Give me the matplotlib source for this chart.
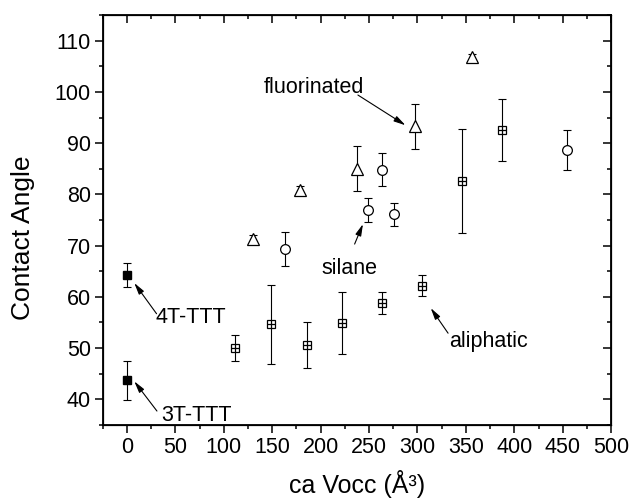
import numpy as np
import matplotlib.pyplot as plt
from matplotlib.ticker import MultipleLocator

plt.rcParams['font.family'] = ['Liberation Sans', 'DejaVu Sans']

# thiophene references (filled squares)
ref_x = [0, 0]
ref_y = [64.3, 43.7]
ref_err = [2.4, 3.8]

# aliphatic (crossed squares)
ali_x = [112, 149, 186, 222, 263, 305, 346, 387]
ali_y = [50.0, 54.6, 50.6, 54.9, 58.8, 62.2, 82.6, 92.6]
ali_err = [2.6, 7.8, 4.4, 6.1, 2.1, 2.1, 10.2, 6.0]

# silane (open circles)
sil_x = [163, 249, 263, 276, 454]
sil_y = [69.3, 76.9, 84.8, 76.1, 88.6]
sil_err = [3.3, 2.3, 3.2, 2.3, 3.9]

# fluorinated (open triangles)
flu_x = [130, 179, 238, 297, 356]
flu_y = [71.2, 80.8, 85.0, 93.3, 106.9]
flu_err = [0.8, 0.8, 4.4, 4.4, 0.6]

fig = plt.figure(figsize=(6.34, 5.04), dpi=100)
ax = fig.add_axes([0.162, 0.157, 0.802, 0.813])

eb = dict(fmt='none', ecolor='black', elinewidth=0.8, capsize=2.6, capthick=0.8, zorder=2)
for x, y, e in [(ref_x, ref_y, ref_err), (ali_x, ali_y, ali_err),
                (sil_x, sil_y, sil_err), (flu_x, flu_y, flu_err)]:
    ax.errorbar(x, y, yerr=e, **eb)

ax.plot(ref_x, ref_y, 's', ms=6.2, color='black', zorder=3)
ax.plot(ali_x, ali_y, 's', ms=6.0, mfc='white', mec='black', mew=0.9, zorder=3)
ax.plot(ali_x, ali_y, '+', ms=6.0, color='black', mew=0.9, zorder=4)
ax.plot(sil_x, sil_y, 'o', ms=7.0, mfc='white', mec='black', mew=0.9, zorder=3)
ax.plot(flu_x, flu_y, '^', ms=8.0, mfc='white', mec='black', mew=0.9, zorder=3)

# labels with arrows pointing at the groups
arrow = dict(arrowstyle='-|>,head_length=0.7,head_width=0.18', color='black', lw=0.8,
             shrinkA=0, shrinkB=0)
notes = [
    ('fluorinated', (141, 100.9), (238.5, 99.4), (287.6, 93.5)),
    ('silane', (200.7, 65.6), (235.1, 70.3), (243.7, 74.2)),
    ('aliphatic', (332.7, 51.3), (331.6, 52.9), (313.7, 57.8)),
    ('4T-TTT', (30, 55.9), (30.6, 56.7), (7.6, 62.7)),
    ('3T-TTT', (35.2, 36.9), (31, 37.7), (7.6, 43.5)),
]
for txt, tpos, a0, a1 in notes:
    ax.text(tpos[0], tpos[1], txt, fontsize=15.5, ha='left', va='center')
    ax.annotate('', xy=a1, xytext=a0, arrowprops=arrow)

ax.set_xlim(-25, 500)
ax.set_ylim(35, 115)
ax.xaxis.set_major_locator(MultipleLocator(50))
ax.xaxis.set_minor_locator(MultipleLocator(25))
ax.yaxis.set_major_locator(MultipleLocator(10))
ax.yaxis.set_minor_locator(MultipleLocator(5))
ax.set_yticks(np.arange(40, 111, 10))

for s in ax.spines.values():
    s.set_linewidth(1.3)
ax.tick_params(which='both', direction='out', width=1.1, labelsize=15.5, pad=3)
ax.tick_params(which='major', length=5.5)
ax.tick_params(which='minor', length=3)

# mirrored ticks pointing inward on top and right
axt = ax.twiny()
axt.set_xlim(ax.get_xlim())
axt.xaxis.set_major_locator(MultipleLocator(50))
axt.xaxis.set_minor_locator(MultipleLocator(25))
axt.tick_params(which='both', direction='in', width=1.1, labeltop=False)
axt.tick_params(which='major', length=5.5)
axt.tick_params(which='minor', length=3)
axr = ax.twinx()
axr.set_ylim(ax.get_ylim())
axr.yaxis.set_major_locator(MultipleLocator(10))
axr.yaxis.set_minor_locator(MultipleLocator(5))
axr.tick_params(which='both', direction='in', width=1.1, labelright=False)
axr.tick_params(which='major', length=5.5)
axr.tick_params(which='minor', length=3)

ax.set_xlabel('ca Vocc (Å³)', fontsize=18, labelpad=9)
ax.set_ylabel('Contact Angle', fontsize=19, va='center')
ax.yaxis.set_label_coords(-0.157, 0.456)

fig.savefig('out.png', dpi=100)
